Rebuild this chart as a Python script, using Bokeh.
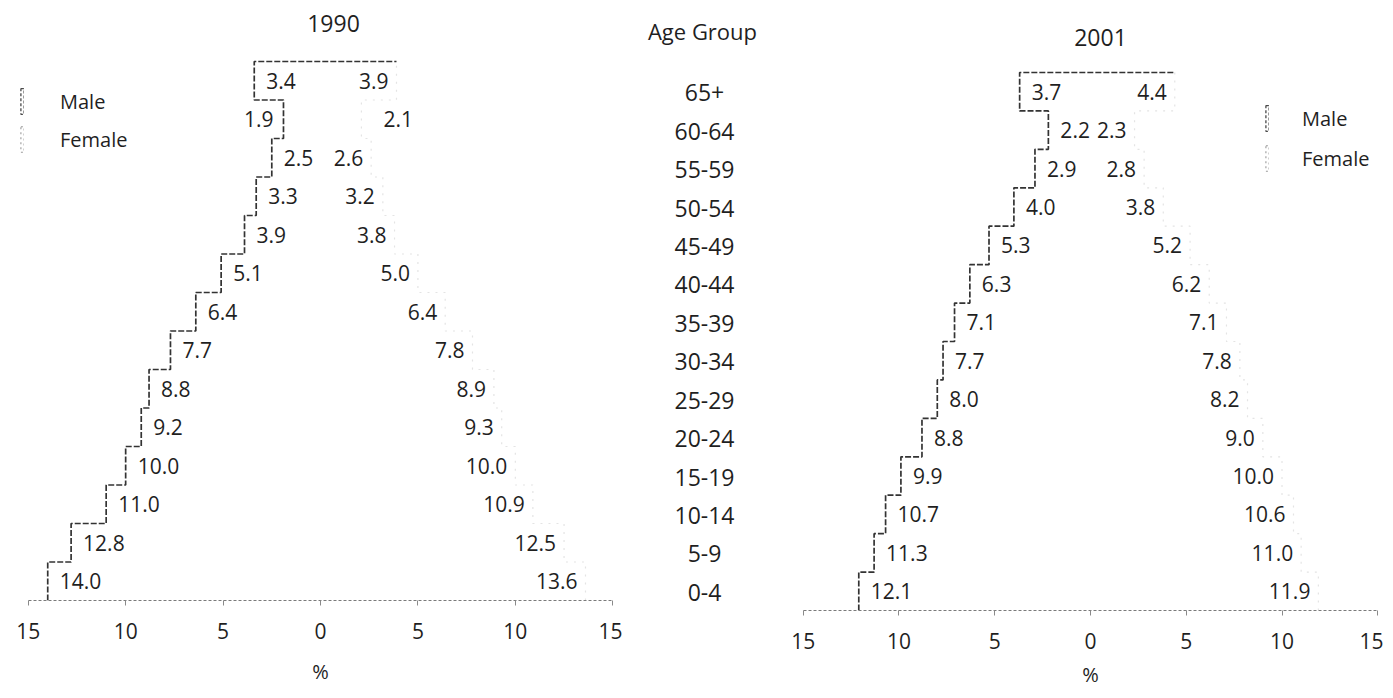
from bokeh.plotting import figure
from bokeh.models import Range1d, LinearAxis, FixedTicker, Label, Legend, LegendItem, ColumnDataSource, Spacer
from bokeh.layouts import row, column
from bokeh.core.properties import value
from bokeh.embed import file_html
from bokeh.resources import INLINE

# ---- data (bottom row first) ----
age_groups = ["0-4", "5-9", "10-14", "15-19", "20-24", "25-29", "30-34",
              "35-39", "40-44", "45-49", "50-54", "55-59", "60-64", "65+"]
male_1990 = [14.0, 12.8, 11.0, 10.0, 9.2, 8.8, 7.7, 6.4, 5.1, 3.9, 3.3, 2.5, 1.9, 3.4]
female_1990 = [13.6, 12.5, 10.9, 10.0, 9.3, 8.9, 7.8, 6.4, 5.0, 3.8, 3.2, 2.6, 2.1, 3.9]
male_2001 = [12.1, 11.3, 10.7, 9.9, 8.8, 8.0, 7.7, 7.1, 6.3, 5.3, 4.0, 2.9, 2.2, 3.7]
female_2001 = [11.9, 11.0, 10.6, 10.0, 9.0, 8.2, 7.8, 7.1, 6.2, 5.2, 3.8, 2.8, 2.3, 4.4]
tick_values = [-15, -10, -5, 0, 5, 10, 15]
years = ["1990", "2001"]

FONT = "Open Sans"
INK = "#1f1f1f"

# layout (pixels in the picture)
BORDER_TOP = 8
FRAME_H = 592
SHIFT = 10          # the 2001 half of the scan sits a little lower
SHORT = 2.15        # bars too short to hold their label


def frame_box(shift):
    top = shift + BORDER_TOP
    return top, top + FRAME_H


def yrange_for(shift, row_top, row_bot, n):
    ft, fb = frame_box(shift)
    r = (row_bot - row_top) / n
    return Range1d(-(fb - row_bot) / r, n + (row_top - ft) / r)


def step_path(vals, sign):
    xs, ys = [], []
    for i, v in enumerate(vals):
        xs += [sign * v, sign * v]
        ys += [i, i + 1]
    return xs, ys


def pyramid(male, female, year, half, pxu, shift, row_top, border_left,
            title_dx, title_y, legend_top, legend_x, legend_spacing, legend_standoff,
            label_standoff):
    n = len(male)
    ft, fb = frame_box(shift)
    p = figure(frame_width=int(round(2 * half * pxu)), frame_height=FRAME_H,
               x_range=Range1d(-half, half), y_range=yrange_for(shift, row_top, fb, n),
               x_axis_location=None, y_axis_location=None,
               output_backend="svg", toolbar_location=None,
               min_border_left=border_left, min_border_right=0,
               min_border_top=BORDER_TOP, min_border_bottom=0)
    p.outline_line_color = None
    p.grid.visible = False
    p.background_fill_color = "white"

    ys = [i + 0.5 for i in range(n)]
    # the bars themselves (their tints did not survive the print)
    bm = p.hbar(y=ys, left=[-v for v in male], right=0, height=1, fill_alpha=0,
                line_color="#4a4a4a", line_width=1.3, line_dash="3 2", visible=False)
    bf = p.hbar(y=ys, left=0, right=female, height=1, fill_alpha=0,
                line_color="#9a9a9a", line_width=1.1, line_dash="2 3", visible=False)

    # male outline (step)
    mx, my = step_path(male, -1)
    mx.append(female[-1])
    my.append(n)
    p.line(mx, my, line_color="#333333", line_width=1.7, line_dash="6 2")
    # female outline (faded in the print)
    fx, fy = step_path(female, 1)
    p.line(fx, fy, line_color="#e4e4e4", line_width=1.2, line_dash="2 6")

    msrc = ColumnDataSource(dict(x=[-v for v in male], y=ys, t=["%.1f" % v for v in male],
                                 a=["right" if v < SHORT else "left" for v in male],
                                 o=[-10 if v < SHORT else 12 for v in male]))
    fsrc = ColumnDataSource(dict(x=list(female), y=ys, t=["%.1f" % v for v in female],
                                 a=["left" if v < SHORT else "right" for v in female],
                                 o=[22 if v < SHORT else -8 for v in female]))
    for src in (msrc, fsrc):
        p.text(x="x", y="y", text="t", source=src, text_align="a", text_baseline="middle",
               x_offset="o", text_font=value(FONT), text_font_size="21px", text_color=INK)

    ax = LinearAxis(ticker=FixedTicker(ticks=tick_values),
                    major_label_overrides={t: str(abs(t)) for t in tick_values},
                    axis_label="%")
    ax.bounds = (tick_values[0], tick_values[-1])
    ax.axis_line_color = "#7a7a7a"
    ax.axis_line_dash = "3 2"
    ax.axis_line_width = 1
    ax.major_tick_line_color = "#8a8a8a"
    ax.major_tick_out = 5
    ax.major_tick_in = 0
    ax.minor_tick_line_color = None
    ax.major_label_standoff = 17
    ax.major_label_text_font = FONT
    ax.major_label_text_font_size = "21px"
    ax.major_label_text_color = INK
    ax.axis_label_standoff = label_standoff
    ax.axis_label_text_font = FONT
    ax.axis_label_text_font_size = "20px"
    ax.axis_label_text_font_style = "normal"
    ax.axis_label_text_color = INK
    p.add_layout(ax, "below")

    p.add_layout(Label(x=0, y=n, x_offset=title_dx, y_offset=row_top - title_y, text=year,
                       text_align="center", text_baseline="middle",
                       text_font=FONT, text_font_size="23px", text_color=INK))

    leg_h = 2 * 32 + legend_spacing
    leg = Legend(items=[LegendItem(label="Male", renderers=[bm]),
                        LegendItem(label="Female", renderers=[bf])],
                 location=(legend_x, FRAME_H - (legend_top - ft) - leg_h),
                 orientation="vertical",
                 glyph_width=4, glyph_height=32, label_height=32, spacing=legend_spacing,
                 label_standoff=legend_standoff, padding=0, margin=0,
                 inactive_fill_alpha=0,
                 background_fill_alpha=0, border_line_alpha=0,
                 label_text_font=FONT, label_text_font_size="20px", label_text_color=INK)
    p.add_layout(leg)
    return p


left = pyramid(male_1990, female_1990, years[0], 15.5, 19.5, 0, 61, 18,
               13, 23, 85, 2, 6, 36, 16)
right = pyramid(male_2001, female_2001, years[1], 15.3, 19.15, SHIFT, 72, 11,
                10, 37, 102, 468, 8, 33, 9)

mid = figure(frame_width=164, frame_height=FRAME_H,
             x_range=Range1d(0, 1), y_range=yrange_for(SHIFT, 73, 611, len(age_groups)),
             x_axis_location=None, y_axis_location=None,
             output_backend="svg", toolbar_location=None,
             min_border_left=0, min_border_right=0,
             min_border_top=BORDER_TOP, min_border_bottom=0)
mid.outline_line_color = None
mid.grid.visible = False
mid.text(x=[0.5] * len(age_groups), y=[i + 0.5 for i in range(len(age_groups))],
         text=age_groups, text_align="center", text_baseline="middle",
         text_font=value(FONT), text_font_size="23px", text_color=INK)
mid.add_layout(Label(x=0.5, y=len(age_groups), x_offset=-2, y_offset=73 - 30, text="Age Group",
                     text_align="center", text_baseline="middle",
                     text_font=FONT, text_font_size="22px", text_color=INK))

layout = row(left,
             column(Spacer(height=SHIFT, width=164), mid, spacing=0),
             column(Spacer(height=SHIFT, width=10), right, spacing=0),
             spacing=0)
open("out.html", "w").write(file_html(layout, INLINE))
